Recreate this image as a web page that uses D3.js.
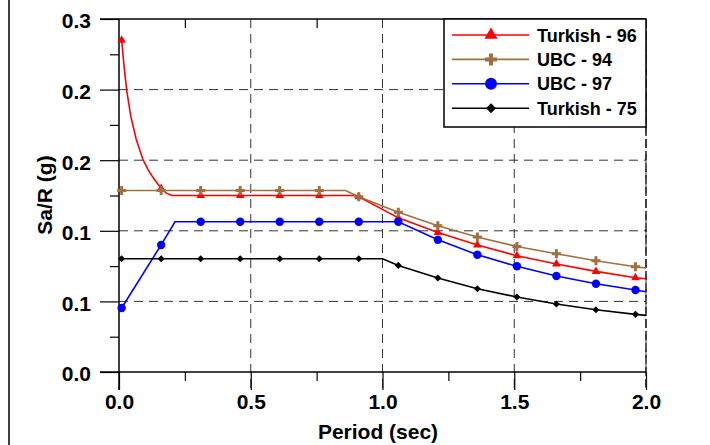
<!DOCTYPE html>
<html>
<head>
<meta charset="utf-8">
<script src="https://cdn.jsdelivr.net/npm/d3@7"></script>
<style>
  body { margin: 0; background: #fff; }
  text { font-family: "Liberation Sans", Arial, sans-serif; font-weight: bold; }
</style>
</head>
<body>
<svg id="chart" width="710" height="445"></svg>
<script>
// marker periods (sec), shared by all curves
var markerPeriods = [0.01, 0.16, 0.31, 0.46, 0.61, 0.76, 0.91, 1.06, 1.21, 1.36, 1.51, 1.66, 1.81, 1.96];

// Turkish - 96
var turkish96T = [0.01, 0.02, 0.03, 0.045, 0.065, 0.09, 0.11, 0.13, 0.16, 0.18, 0.2, 0.31, 0.46, 0.61, 0.76, 0.9, 0.91, 1.06, 1.21, 1.36, 1.51, 1.66, 1.81, 1.96, 2.0];
var turkish96V = [0.282, 0.258, 0.238, 0.217, 0.198, 0.181, 0.172, 0.165, 0.156, 0.152, 0.150, 0.150, 0.150, 0.150, 0.150, 0.150, 0.149, 0.131, 0.1185, 0.108, 0.0988, 0.0918, 0.0855, 0.0801, 0.0793];

// UBC - 94
var ubc94T = [0.01, 0.16, 0.31, 0.46, 0.61, 0.76, 0.86, 0.91, 1.06, 1.21, 1.36, 1.51, 1.66, 1.81, 1.96, 2.0];
var ubc94V = [0.1543, 0.1543, 0.1543, 0.1543, 0.1543, 0.1543, 0.1543, 0.149, 0.1357, 0.1243, 0.1147, 0.1067, 0.1005, 0.0946, 0.0895, 0.0884];

// UBC - 97
var ubc97T = [0.01, 0.16, 0.2125, 0.31, 0.46, 0.61, 0.76, 0.91, 1.06, 1.21, 1.36, 1.51, 1.66, 1.81, 1.96, 2.0];
var ubc97V = [0.0544, 0.108, 0.1277, 0.1277, 0.1277, 0.1277, 0.1277, 0.1277, 0.1277, 0.1124, 0.0997, 0.0898, 0.0816, 0.075, 0.0697, 0.0682];

// Turkish - 75
var turkish75T = [0.01, 0.16, 0.31, 0.46, 0.61, 0.76, 0.91, 1.0, 1.06, 1.21, 1.36, 1.51, 1.66, 1.81, 1.96, 2.0];
var turkish75V = [0.0963, 0.0963, 0.0963, 0.0963, 0.0963, 0.0963, 0.0963, 0.0963, 0.0906, 0.0799, 0.0708, 0.0637, 0.0578, 0.0529, 0.049, 0.0481];

var seriesNames = ["Turkish - 96", "UBC - 94", "UBC - 97", "Turkish - 75"];

var xMajor = [0, 0.5, 1.0, 1.5, 2.0];
var xMinor = [0.25, 0.75, 1.25, 1.75];
var yMajor = [0, 0.06, 0.12, 0.18, 0.24, 0.3];
var yMinor = [0.03, 0.09, 0.15, 0.21, 0.27];

function zip(t, v) {
	return t.map(function(d, i) { return {t: d, v: v[i]}; });
}

var series = [
	{name: seriesNames[0], data: zip(turkish96T, turkish96V), color: "#ff0000", sym: d3.symbolTriangle, size: 32, lsize: 75, rot: 0},
	{name: seriesNames[1], data: zip(ubc94T, ubc94V), color: "#a0703e", sym: d3.symbolCross, size: 45, lsize: 80, rot: 0},
	{name: seriesNames[2], data: zip(ubc97T, ubc97V), color: "#0000ff", sym: d3.symbolCircle, size: 56, lsize: 113, rot: 0},
	{name: seriesNames[3], data: zip(turkish75T, turkish75V), color: "#000000", sym: d3.symbolSquare, size: 25, lsize: 50, rot: 45}
];

var svg = d3.select("#chart");
var pLeft = 119, pRight = 646, pTop = 19, pBottom = 372;

var x = d3.scaleLinear().domain([0, 2]).range([pLeft, pRight]);
var y = d3.scaleLinear().domain([0, 0.3]).range([pBottom, pTop]);
var fmt = d3.format(".1f");

// outer frame line on the left
svg.append("line")
	.attr("x1", 9).attr("x2", 9).attr("y1", 0).attr("y2", 445)
	.attr("stroke", "#000").attr("stroke-width", 1.5);

// grid
var grid = svg.append("g").attr("stroke", "#333").attr("stroke-width", 1).attr("stroke-dasharray", "9,6");
grid.selectAll("line.h")
	.data(yMajor.filter(function(d) { return d > 0 && d < 0.3; }))
	.enter().append("line")
	.attr("x1", pLeft).attr("x2", pRight)
	.attr("y1", function(d) { return y(d); }).attr("y2", function(d) { return y(d); });
grid.selectAll("line.v")
	.data(xMajor.filter(function(d) { return d > 0; }))
	.enter().append("line")
	.attr("y1", pTop).attr("y2", pBottom + 18)
	.attr("x1", function(d) { return x(d); }).attr("x2", function(d) { return x(d); });

// axes
var yAxis = svg.append("g")
	.attr("transform", "translate(" + pLeft + ",0)")
	.call(d3.axisLeft(y).tickValues(yMajor).tickSize(19).tickPadding(9).tickFormat(fmt));
yAxis.selectAll("text").attr("font-size", 21).attr("dy", "0.42em").attr("fill", "#000");

svg.append("g")
	.attr("transform", "translate(" + pLeft + ",0)")
	.call(d3.axisLeft(y).tickValues(yMinor).tickSize(9).tickFormat(""));

var xAxis = svg.append("g")
	.attr("transform", "translate(0," + pBottom + ")")
	.call(d3.axisBottom(x).tickValues(xMajor).tickSize(18).tickPadding(4).tickFormat(fmt));
xAxis.selectAll("text").attr("font-size", 21).attr("fill", "#000");

svg.append("g")
	.attr("transform", "translate(0," + pBottom + ")")
	.call(d3.axisBottom(x).tickValues(xMinor).tickSize(9).tickFormat(""));

svg.append("g")
	.attr("transform", "translate(0," + pTop + ")")
	.call(d3.axisBottom(x).tickValues(xMinor).tickSize(9).tickFormat(""));

svg.selectAll(".domain").remove();
svg.selectAll(".tick line").attr("stroke", "#000").attr("stroke-width", 1.2);

// frame lines
svg.append("line").attr("x1", pLeft).attr("x2", pLeft).attr("y1", pTop).attr("y2", pBottom + 18)
	.attr("stroke", "#000").attr("stroke-width", 1.5);
svg.append("line").attr("x1", pLeft - 19).attr("x2", pRight).attr("y1", pBottom).attr("y2", pBottom)
	.attr("stroke", "#000").attr("stroke-width", 1.5);
svg.append("line").attr("x1", pLeft - 19).attr("x2", pRight).attr("y1", pTop).attr("y2", pTop)
	.attr("stroke", "#000").attr("stroke-width", 1.5);
svg.append("line").attr("x1", pRight).attr("x2", pRight).attr("y1", pTop).attr("y2", pBottom + 15)
	.attr("stroke", "#222").attr("stroke-width", 1.5).attr("stroke-dasharray", "9,3");

// curves
var line = d3.line()
	.x(function(d) { return x(d.t); })
	.y(function(d) { return y(d.v); });

function isMarker(t) {
	return markerPeriods.some(function(m) { return Math.abs(m - t) < 1e-6; });
}

series.forEach(function(s) {
	svg.append("path")
		.datum(s.data)
		.attr("fill", "none")
		.attr("stroke", s.color)
		.attr("stroke-width", 1.6)
		.attr("d", line);

	svg.selectAll(null)
		.data(s.data.filter(function(d) { return isMarker(d.t); }))
		.enter().append("path")
		.attr("d", d3.symbol().type(s.sym).size(s.size))
		.attr("fill", s.color)
		.attr("transform", function(d) { return "translate(" + x(d.t) + "," + y(d.v) + ") rotate(" + s.rot + ")"; });
});

// legend
var lg = svg.append("g");
lg.append("rect")
	.attr("x", 444).attr("y", 19).attr("width", 202).attr("height", 108)
	.attr("fill", "#fff").attr("stroke", "#000").attr("stroke-width", 1.5);

var entry = lg.selectAll("g.entry")
	.data(series)
	.enter().append("g")
	.attr("transform", function(d, i) { return "translate(0," + (35 + i * 24.4) + ")"; });

entry.append("line")
	.attr("x1", 452).attr("x2", 529)
	.attr("stroke", function(d) { return d.color; })
	.attr("stroke-width", 1.6);

entry.append("path")
	.attr("d", function(d) { return d3.symbol().type(d.sym).size(d.lsize)(); })
	.attr("fill", function(d) { return d.color; })
	.attr("transform", function(d) { return "translate(491,0) rotate(" + d.rot + ")"; });

entry.append("text")
	.attr("x", 537).attr("y", 6.5)
	.attr("font-size", 18)
	.text(function(d) { return d.name; });

// axis titles
svg.append("text")
	.attr("x", 378).attr("y", 439)
	.attr("text-anchor", "middle")
	.attr("font-size", 21)
	.text("Period (sec)");

svg.append("text")
	.attr("transform", "translate(52,195) rotate(-90)")
	.attr("text-anchor", "middle")
	.attr("font-size", 21)
	.text("Sa/R (g)");
</script>
</body>
</html>
